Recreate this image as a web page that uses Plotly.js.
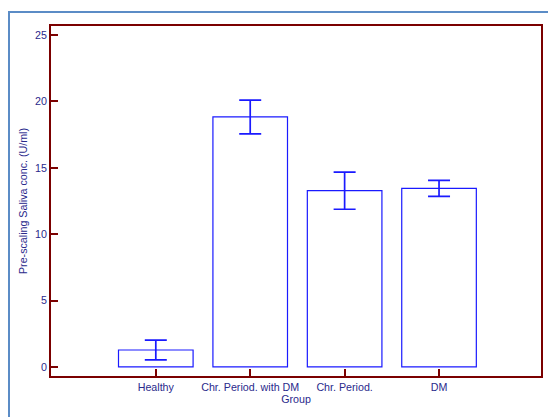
<!DOCTYPE html>
<html>
<head>
<meta charset="utf-8">
<script src="https://cdn.plot.ly/plotly-3.0.1.min.js"></script>
<style>
html,body{margin:0;padding:0;background:#fff;}
#wrap{position:relative;width:548px;height:417px;overflow:hidden;}
#chart{position:absolute;left:0;top:0;width:548px;height:417px;}
#frame{position:absolute;left:8px;top:11px;width:600px;height:600px;border-left:2px solid #5b8cc6;border-top:2px solid #5b8cc6;pointer-events:none;}
</style>
</head>
<body>
<div id="wrap"><div id="chart"></div><div id="frame"></div></div>
<script>
const categories = ["Healthy", "Chr. Period. with DM", "Chr. Period.", "DM"];
const means = [1.28, 18.83, 13.28, 13.45];
const errors = [0.74, 1.27, 1.40, 0.60];
const yTicks = [0, 5, 10, 15, 20, 25];

const axisColor = "#7b0000";
const textColor = "#2a2a8c";
const fontFam = "Liberation Sans, Arial, sans-serif";

const trace = {
  type: "bar",
  x: categories.map((c, i) => i),
  y: means,
  width: 0.79,
  marker: {color: "#ffffff", line: {color: "#1a1aff", width: 1.2}},
  error_y: {type: "data", array: errors, visible: true, color: "#1a1aff", thickness: 1.7, width: 11},
  hoverinfo: "none"
};

const layout = {
  width: 548, height: 417,
  margin: {l: 51, r: 7, t: 26, b: 41, pad: 0},
  paper_bgcolor: "#ffffff",
  plot_bgcolor: "#ffffff",
  showlegend: false,
  font: {family: fontFam, color: textColor, size: 10.7},
  xaxis: {
    range: [-1.11, 4.08],
    tickmode: "array",
    tickvals: categories.map((c, i) => i),
    ticktext: categories,
    ticks: "inside", ticklen: 7, tickwidth: 2, tickcolor: axisColor,
    showline: true, linecolor: axisColor, linewidth: 2, mirror: true,
    showgrid: false, zeroline: false,
    tickfont: {family: fontFam, size: 10.7, color: textColor},
    title: {text: "Group", font: {family: fontFam, size: 10.7, color: textColor}, standoff: 4}
  },
  yaxis: {
    range: [-0.68, 25.68],
    tickmode: "array",
    tickvals: yTicks,
    ticktext: yTicks.map(String),
    ticks: "inside", ticklen: 7, tickwidth: 2, tickcolor: axisColor,
    showline: true, linecolor: axisColor, linewidth: 2, mirror: true,
    showgrid: false, zeroline: false,
    tickfont: {family: fontFam, size: 10.7, color: textColor},
    title: {text: "Pre-scaling Saliva conc. (U/ml)", font: {family: fontFam, size: 10.7, color: textColor}, standoff: 5}
  }
};

Plotly.newPlot("chart", [trace], layout, {displayModeBar: false, staticPlot: true});
</script>
</body>
</html>
